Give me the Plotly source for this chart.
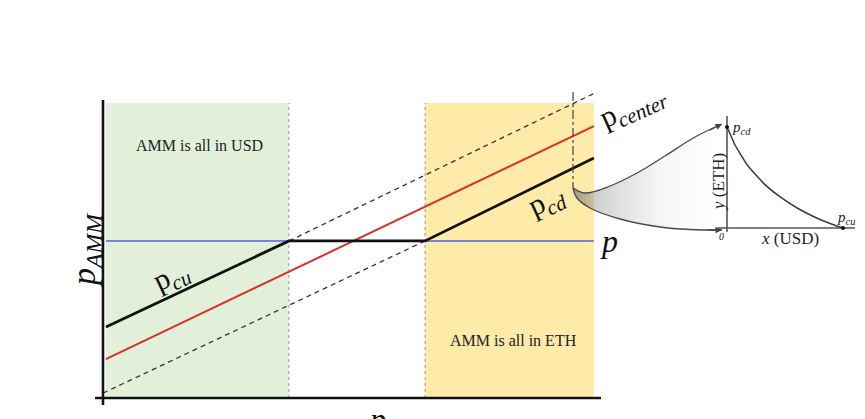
import plotly.graph_objects as go

# ---------------- data (schematic units) ----------------
# market price p (x axis) break points
p_market = [0.06, 3.81, 6.6, 10.06]
# AMM price (black): follows p_cu, flat at p, then follows p_cd
p_amm = [3.05, 6.74, 6.74, 10.30]
# external price p (blue)
p_level = 6.74
# p_center (red)
center_x = [0.06, 10.06]
center_y = [1.67, 11.67]
# dashed continuations of p_cu and p_cd
pcu_dash_x = [3.81, 10.12]
pcu_dash_y = [6.74, 13.13]
pcd_dash_x = [0.0, 6.6]
pcd_dash_y = [0.21, 6.74]
# shaded regions
usd_region = [0.06, 3.81]
eth_region = [6.6, 10.06]
region_top = 12.66
# inset bonding curve (x = USD reserve, y = ETH reserve)
usd_reserve = [0, 4, 8, 14, 21, 29, 38, 55, 71, 88, 105, 116]
eth_reserve = [101, 92, 83, 73, 62, 53, 43.4, 29.8, 19.5, 10.8, 3.8, 0]

# ---------------- geometry helpers (reference-pixel -> data) ----------------
SX, SY, OX, OY = 48.8, 23.3, 103, 398
PAGE_OFF = 8             # page body margin
W, H = 865 - PAGE_OFF, 419 - PAGE_OFF
def X(px):
    return (px - OX) / SX
def Y(py):
    return (OY - py) / SY

SERIF = "Liberation Serif"
fig = go.Figure()

# region backgrounds
shapes = [
    dict(type="rect", xref="x", yref="y", x0=usd_region[0], x1=usd_region[1], y0=0, y1=region_top,
         fillcolor="#E2F0D9", line_width=0, layer="below"),
    dict(type="rect", xref="x", yref="y", x0=eth_region[0], x1=eth_region[1], y0=0, y1=region_top,
         fillcolor="#FEEAA9", line_width=0, layer="below"),
    dict(type="line", xref="x", yref="y", x0=usd_region[1], x1=usd_region[1], y0=0, y1=region_top,
         line=dict(color="#9a9a9a", width=1, dash="dot"), layer="below"),
    dict(type="line", xref="x", yref="y", x0=eth_region[0], x1=eth_region[0], y0=0, y1=region_top,
         line=dict(color="#9a9a9a", width=1, dash="dot"), layer="below"),
]

# funnel (gradient) from the p_cd point to the inset
upper = [(573, 188), (585, 193), (610, 186), (637, 173), (665, 156), (695, 137), (722, 124)]
lower = [(573, 188), (577, 198), (590, 208), (620, 219), (660, 227), (690, 229.5), (722, 230)]
fx = [X(p[0]) for p in upper] + [X(p[0]) for p in reversed(lower)]
fy = [Y(p[1]) for p in upper] + [Y(p[1]) for p in reversed(lower)]
fig.add_trace(go.Scatter(
    x=fx, y=fy, mode="lines", fill="toself", line=dict(width=0, shape="spline"),
    fillgradient=dict(type="horizontal",
                      colorscale=[[0, "rgba(100,100,100,0.6)"], [0.15, "rgba(150,150,150,0.45)"],
                                  [0.55, "rgba(220,220,220,0.3)"], [1, "rgba(255,255,255,0)"]]),
    hoverinfo="skip", showlegend=False))
for curve in (upper, lower):
    fig.add_trace(go.Scatter(x=[X(p[0]) for p in curve], y=[Y(p[1]) for p in curve], mode="lines",
                             line=dict(color="#4a4a4a", width=1.3, shape="spline"),
                             hoverinfo="skip", showlegend=False))

# blue p line
fig.add_trace(go.Scatter(x=[p_market[0], p_market[-1]], y=[p_level, p_level], mode="lines",
                         line=dict(color="#5566D6", width=1.6), showlegend=False))
# dashed lines
fig.add_trace(go.Scatter(x=pcu_dash_x, y=pcu_dash_y, mode="lines",
                         line=dict(color="#333333", width=1.3, dash="5px,4px"), showlegend=False))
fig.add_trace(go.Scatter(x=pcd_dash_x, y=pcd_dash_y, mode="lines",
                         line=dict(color="#333333", width=1.3, dash="5px,4px"), showlegend=False))
# red center
fig.add_trace(go.Scatter(x=center_x, y=center_y, mode="lines",
                         line=dict(color="#D9302A", width=2), showlegend=False))
# black AMM price
fig.add_trace(go.Scatter(x=p_market, y=p_amm, mode="lines",
                         line=dict(color="#111111", width=2.8), showlegend=False))
# dash-dot vertical
fig.add_trace(go.Scatter(x=[X(573), X(573)], y=[pcu_dash_y[1], Y(188)], mode="lines",
                         line=dict(color="#444444", width=1.2, dash="dashdot"), showlegend=False))

# main axes lines
fig.add_trace(go.Scatter(x=[0, 0], y=[Y(100), Y(405)], mode="lines",
                         line=dict(color="#111111", width=2.6), showlegend=False))
fig.add_trace(go.Scatter(x=[X(95), X(601)], y=[0, 0], mode="lines",
                         line=dict(color="#111111", width=2.6), showlegend=False))

# inset
fig.add_trace(go.Scatter(x=[0, 0], y=[-4, 112], xaxis="x2", yaxis="y2", mode="lines",
                         line=dict(color="#555555", width=1.6), showlegend=False))
fig.add_trace(go.Scatter(x=[-9, 128], y=[0, 0], xaxis="x2", yaxis="y2", mode="lines",
                         line=dict(color="#555555", width=1.6), showlegend=False))
fig.add_trace(go.Scatter(x=usd_reserve, y=eth_reserve, xaxis="x2", yaxis="y2", mode="lines",
                         line=dict(color="#3a3a3a", width=1.5, shape="spline", smoothing=0.6),
                         showlegend=False))
fig.add_trace(go.Scatter(x=[usd_reserve[0], usd_reserve[-1]], y=[eth_reserve[0], eth_reserve[-1]],
                         xaxis="x2", yaxis="y2", mode="markers",
                         marker=dict(color="#111111", size=4), showlegend=False))

ann = []
def txt(x, y, text, size, angle=0, color="#222222", xref="x", yref="y", **kw):
    d = dict(x=x, y=y, xref=xref, yref=yref, text=text, showarrow=False, textangle=angle,
             font=dict(family=SERIF, size=size, color=color))
    d.update(kw)
    ann.append(d)

txt(X(199), Y(145), "AMM is all in USD", 16)
txt(X(513), Y(340), "AMM is all in ETH", 16)
txt(X(86), Y(250), "<i>p</i><sub><i>AMM</i></sub>", 34, angle=-90, color="#111111")
txt(X(171), Y(277), "p<sub><i>cu</i></sub>", 30, angle=-25, color="#111111")
txt(X(546), Y(202), "p<sub><i>cd</i></sub>", 30, angle=-25, color="#111111")
txt(X(633), Y(107), "p<sub><i>center</i></sub>", 30, angle=-24, color="#111111")
txt(X(609), Y(241), "<i>p</i>", 32, color="#111111")
txt(X(377), Y(399), "<i>p</i>", 32, color="#111111", yanchor="top")
# inset labels
txt(14, 100, "<i>p<sub>cd</sub></i>", 15, xref="x2", yref="y2")
txt(119, 10, "<i>p<sub>cu</sub></i>", 15, xref="x2", yref="y2")
txt(-9, 46, "<i>y</i> (ETH)", 17, angle=-90, xref="x2", yref="y2")
txt(63, -10, "<i>x</i> (USD)", 17, xref="x2", yref="y2")
txt(-6, -8, "<i>0</i>", 10, xref="x2", yref="y2")

# arrowheads on the funnel curves
for tip, tail in (((722, 124), (708, 131)), ((722, 230), (706, 230))):
    ann.append(dict(x=X(tip[0]), y=Y(tip[1]), ax=X(tail[0]), ay=Y(tail[1]), xref="x", yref="y",
                    axref="x", ayref="y", text="", showarrow=True, arrowhead=2, arrowsize=1,
                    arrowwidth=1.3, arrowcolor="#444444"))

fig.update_layout(
    width=W, height=H, margin=dict(l=0, r=0, t=0, b=0),
    paper_bgcolor="white", plot_bgcolor="rgba(0,0,0,0)",
    xaxis=dict(range=[X(PAGE_OFF), X(865)], visible=False, domain=[0, 1]),
    yaxis=dict(range=[Y(419), Y(PAGE_OFF)], visible=False, domain=[0, 1]),
    xaxis2=dict(range=[-10, 130], domain=[(717 - PAGE_OFF) / W, (857 - PAGE_OFF) / W],
                anchor="y2", visible=False),
    yaxis2=dict(range=[-14, 114], domain=[1 - (242 - PAGE_OFF) / H, 1 - (114 - PAGE_OFF) / H],
                anchor="x2", visible=False),
    shapes=shapes, annotations=ann, showlegend=False,
)
fig.write_html("out.html")
